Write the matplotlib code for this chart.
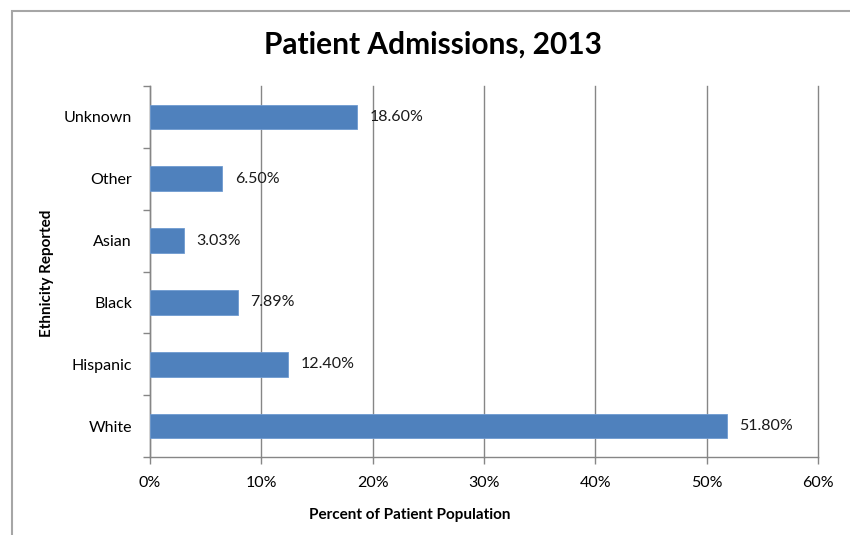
import matplotlib
matplotlib.use("Agg")
import matplotlib.pyplot as plt
from matplotlib.patches import Rectangle

categories = ["White", "Hispanic", "Black", "Asian", "Other", "Unknown"]
values = [51.80, 12.40, 7.89, 3.03, 6.50, 18.60]
xticks = [0, 10, 20, 30, 40, 50, 60]
xticklabels = ["0%", "10%", "20%", "30%", "40%", "50%", "60%"]

plt.rcParams['font.family'] = ['Lato', 'DejaVu Sans']

fig = plt.figure(figsize=(8.5, 5.35), dpi=100)
W, H = 850, 535
ax = fig.add_axes([150 / W, 1 - 457 / H, (818 - 150) / W, (457 - 86) / H])

# outer chart border
fig.add_artist(Rectangle((12 / W, -0.1), 1.2, 1 - 11 / H + 0.1, transform=fig.transFigure,
                         fill=False, edgecolor='#a6a6a6', linewidth=1.5))

grey = '#868686'
ypos = list(range(len(categories)))
ax.barh(ypos, values, height=0.4, color='#4f81bd', edgecolor='#6f9bd1', linewidth=0.6, zorder=3)

for y, v in zip(ypos, values):
    ax.annotate(f"{v:.2f}%", (v, y), xytext=(9, 0), textcoords='offset points',
                va='center', ha='left', fontsize=11.5, color='#1a1a1a')

ax.set_xlim(0, 60)
ax.set_ylim(-0.5, len(categories) - 0.5)
ax.set_xticks(xticks)
ax.set_xticklabels(xticklabels, fontsize=11.5)
ax.set_yticks(ypos)
ax.set_yticklabels(categories, fontsize=11.5)
ax.tick_params(axis='y', length=0, pad=13)
ax.set_yticks([i - 0.5 for i in range(len(categories) + 1)], minor=True)
ax.tick_params(axis='y', which='minor', length=5, color=grey, width=1)
ax.tick_params(axis='x', length=5, color=grey, width=1, pad=9)

ax.grid(axis='x', color=grey, linewidth=1, zorder=0)
for gl in ax.get_xgridlines():
    gl.set_clip_on(False)
ax.set_axisbelow(True)
for s in ['top', 'right']:
    ax.spines[s].set_visible(False)
for s in ['left', 'bottom']:
    ax.spines[s].set_color(grey)
    ax.spines[s].set_linewidth(1)

fig.text(410 / W, 1 - 515 / H, "Percent of Patient Population", fontsize=11, fontweight='bold',
         ha='center', va='center')
fig.text(47 / W, 1 - 273 / H, "Ethnicity Reported", fontsize=11, fontweight='bold',
         ha='center', va='center', rotation=90)
fig.text(433 / W, 1 - 45 / H, "Patient Admissions, 2013", fontsize=21.5, fontweight='bold',
         ha='center', va='center')

fig.savefig("out.png", dpi=100)
